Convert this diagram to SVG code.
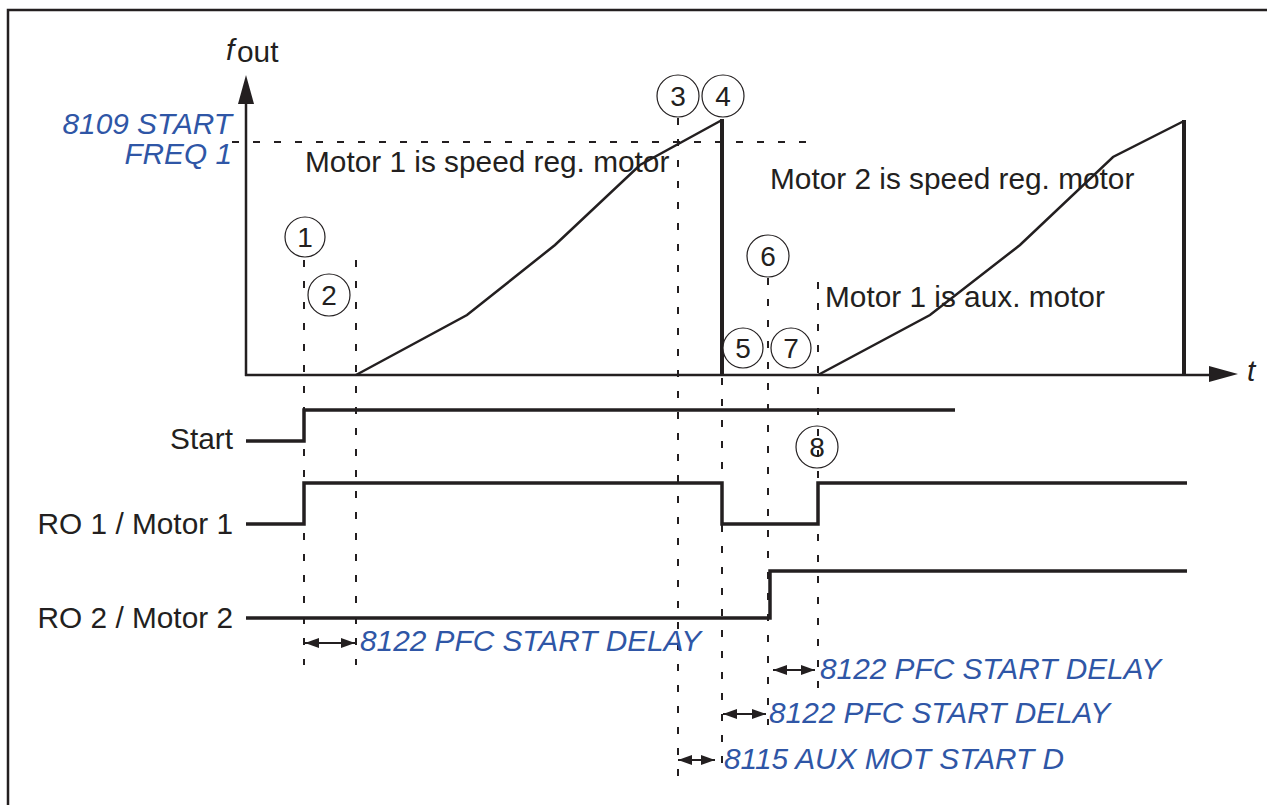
<svg xmlns="http://www.w3.org/2000/svg" width="1267" height="805" viewBox="0 0 1267 805">
<defs>
<style>
.t{font-family:"Liberation Sans",Arial,sans-serif;font-size:29.8px;fill:#231f20}
.b{font-family:"Liberation Sans",Arial,sans-serif;font-size:29.8px;font-style:italic;fill:#2f56a6}
.n{font-family:"Liberation Sans",Arial,sans-serif;font-size:28px;fill:#231f20;text-anchor:middle}
.sig{fill:none;stroke:#231f20;stroke-width:3.5}
.crv{fill:none;stroke:#231f20;stroke-width:2.5}
.dash{fill:none;stroke:#231f20;stroke-width:2;stroke-dasharray:7 14}
.circ{fill:#fff;stroke:#231f20;stroke-width:1.2}
.arr{stroke:#231f20;stroke-width:2;marker-start:url(#ah);marker-end:url(#ah)}
</style>
<marker id="ah" viewBox="0 0 14 10" refX="14" refY="5" markerWidth="14" markerHeight="10" markerUnits="userSpaceOnUse" orient="auto-start-reverse">
<path d="M0,0 L14,5 L0,10 Z" fill="#231f20"/>
</marker>
</defs>
<rect width="1267" height="805" fill="#fff"/>
<!-- frame -->
<path d="M8,805 L8,10 L1267,10" fill="none" stroke="#231f20" stroke-width="2.5"/>

<g id="connectors">
<!-- dashed guides -->
<line class="dash" x1="232" y1="142" x2="808" y2="142"/>
<line class="dash" x1="304" y1="260" x2="304" y2="665"/>
<line class="dash" x1="356" y1="260" x2="356" y2="665"/>
<line class="dash" x1="678" y1="118" x2="678" y2="780"/>
<line class="dash" x1="722" y1="378" x2="722" y2="777"/>
<line class="dash" x1="768" y1="278" x2="768" y2="725"/>
<line class="dash" x1="818" y1="282" x2="818" y2="692"/>
<!-- axes -->
<line x1="246" y1="376" x2="246" y2="100" stroke="#231f20" stroke-width="2.5"/>
<path d="M246,75 L238,104 L254,104 Z" fill="#231f20"/>
<line x1="245" y1="375" x2="1212" y2="375" stroke="#231f20" stroke-width="2.5"/>
<path d="M1238,374 L1209,366 L1209,382 Z" fill="#231f20"/>
<!-- frequency curves -->
<polyline class="crv" points="356,375 467,315 555,245 640,165 722,120"/>
<line x1="722" y1="119" x2="722" y2="376" stroke="#231f20" stroke-width="4"/>
<polyline class="crv" points="818,375 930,315 1020,245 1113,157 1184,121"/>
<line x1="1184" y1="120" x2="1184" y2="376" stroke="#231f20" stroke-width="4"/>
<!-- signals -->
<polyline class="sig" points="246,441 304,441 304,410 955,410"/>
<polyline class="sig" points="246,524 304,524 304,483 722,483 722,524 818,524 818,483 1187,483"/>
<polyline class="sig" points="246,618 770,618 770,571 1187,571"/>
<!-- delay arrows -->
<line class="arr" x1="305" y1="643" x2="355" y2="643"/>
<line class="arr" x1="773" y1="670" x2="815" y2="670"/>
<line class="arr" x1="723" y1="714" x2="766" y2="714"/>
<line class="arr" x1="678" y1="760" x2="715" y2="760"/>
</g>

<g id="labels">
<text x="226" y="60" class="t" font-style="italic" font-size="31">f</text>
<text x="237" y="62" class="t" font-size="23">out</text>
<text x="1247" y="381" class="t" font-style="italic">t</text>
<text x="232" y="134" class="b" text-anchor="end">8109 START</text>
<text x="232" y="164" class="b" text-anchor="end">FREQ 1</text>
<text x="305" y="172" class="t">Motor 1 is speed reg. motor</text>
<text x="770" y="189" class="t">Motor 2 is speed reg. motor</text>
<text x="825" y="307" class="t">Motor 1 is aux. motor</text>
<text x="233" y="449" class="t" text-anchor="end">Start</text>
<text x="233" y="534" class="t" text-anchor="end">RO 1 / Motor 1</text>
<text x="233" y="628" class="t" text-anchor="end">RO 2 / Motor 2</text>
<text x="360" y="651" class="b">8122 PFC START DELAY</text>
<text x="820" y="679" class="b">8122 PFC START DELAY</text>
<text x="769" y="723" class="b">8122 PFC START DELAY</text>
<text x="724" y="769" class="b">8115 AUX MOT START D</text>
</g>

<g id="n1"><circle class="circ" cx="305" cy="237" r="20"/><text class="n" x="305" y="247">1</text></g>
<g id="n2"><circle class="circ" cx="329" cy="295" r="21"/><text class="n" x="329" y="305">2</text></g>
<g id="n3"><circle class="circ" cx="678" cy="96" r="21"/><text class="n" x="678" y="106">3</text></g>
<g id="n4"><circle class="circ" cx="723" cy="96" r="21"/><text class="n" x="723" y="106">4</text></g>
<g id="n5"><circle class="circ" cx="743" cy="348" r="20"/><text class="n" x="743" y="358">5</text></g>
<g id="n6"><circle class="circ" cx="768" cy="256" r="21"/><text class="n" x="768" y="266">6</text></g>
<g id="n7"><circle class="circ" cx="791" cy="348" r="20"/><text class="n" x="791" y="358">7</text></g>
<g id="n8"><circle cx="817" cy="447" r="21" fill="none" stroke="#231f20" stroke-width="1.2"/><text class="n" x="817" y="457">8</text></g>
</svg>
